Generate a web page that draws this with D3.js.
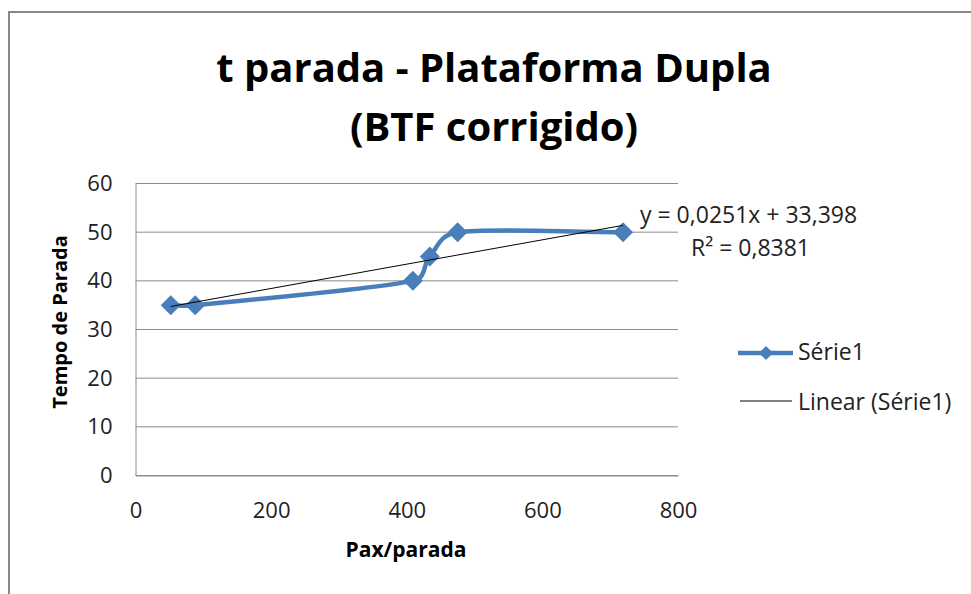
<!DOCTYPE html>
<html>
<head>
<meta charset="utf-8">
<script src="https://cdn.jsdelivr.net/npm/d3@7"></script>
<style>
  body { margin: 0; background: #fff; }
  text { font-family: "Open Sans", sans-serif; }
</style>
</head>
<body>
<div id="chart"></div>
<script>
// data
var paxParada = [52, 88, 409, 434, 475, 719];
var tempoParada = [35, 35, 40, 45, 50, 50];
var xTicks = [0, 200, 400, 600, 800];
var yTicks = [0, 10, 20, 30, 40, 50, 60];
var titleLines = ["t parada - Plataforma Dupla", "(BTF corrigido)"];
var legendLabels = ["Série1", "Linear (Série1)"];

var W = 971, H = 594;
var BLUE = "#4a7ebb";

var svg = d3.select("#chart").append("svg")
  .attr("width", W)
  .attr("height", H);

// outer chart border (runs off the right and bottom edges)
svg.append("rect")
  .attr("x", 9).attr("y", 12)
  .attr("width", W + 10).attr("height", H + 10)
  .style("fill", "#fff")
  .style("stroke", "#878787")
  .style("stroke-width", 2);

var x = d3.scaleLinear().domain([0, 800]).range([135.5, 678]);
var y = d3.scaleLinear().domain([0, 60]).range([475.5, 183.5]);

// gridlines
svg.append("g").selectAll("line")
  .data(yTicks)
  .enter().append("line")
  .attr("x1", x(0)).attr("x2", x(800))
  .attr("y1", function(d) { return y(d); })
  .attr("y2", function(d) { return y(d); })
  .style("stroke", "#8c8c8c")
  .style("stroke-width", 1);

// y axis
var yAxis = svg.append("g")
  .attr("transform", "translate(" + x(0) + ",0)")
  .call(d3.axisLeft(y).tickValues(yTicks).tickSize(0).tickPadding(23));
yAxis.select(".domain").style("stroke", "#8c8c8c");
yAxis.selectAll("text")
  .style("font-size", "22px")
  .style("fill", "#222")
  .style("font-family", "Open Sans, sans-serif");

// x axis
var xAxis = svg.append("g")
  .attr("transform", "translate(0," + y(0) + ")")
  .call(d3.axisBottom(x).tickValues(xTicks).tickSize(0).tickPadding(27));
xAxis.select(".domain").style("stroke", "#8c8c8c");
xAxis.selectAll("text")
  .style("font-size", "22px")
  .style("fill", "#222")
  .style("font-family", "Open Sans, sans-serif");

// data line, smoothed the way Excel does it:
// Catmull-Rom tangents, handles clamped on short segments
var pts = paxParada.map(function(d, i) { return [x(d), y(tempoParada[i])]; });

function tangent(i) {
  var a = pts[Math.max(i - 1, 0)], b = pts[Math.min(i + 1, pts.length - 1)];
  var k = (i == 0 || i == pts.length - 1) ? 1 : 0.5;
  return [(b[0] - a[0]) * k / 3, (b[1] - a[1]) * k / 3];
}
function clamp(t, len) {
  var l = Math.sqrt(t[0] * t[0] + t[1] * t[1]);
  var m = 0.5 * len;
  if (l > m) return [t[0] * m / l, t[1] * m / l];
  return t;
}

var p = d3.path();
p.moveTo(pts[0][0], pts[0][1]);
for (var i = 0; i < pts.length - 1; i++) {
  var a = pts[i], b = pts[i + 1];
  var len = Math.hypot(b[0] - a[0], b[1] - a[1]);
  var ta = clamp(tangent(i), len), tb = clamp(tangent(i + 1), len);
  p.bezierCurveTo(a[0] + ta[0], a[1] + ta[1], b[0] - tb[0], b[1] - tb[1], b[0], b[1]);
}

svg.append("path")
  .attr("d", p.toString())
  .style("fill", "none")
  .style("stroke", BLUE)
  .style("stroke-width", 4.5)
  .style("stroke-linejoin", "round");

var diamond = d3.symbol().type(d3.symbolSquare).size(200);
svg.append("g").selectAll("path")
  .data(pts)
  .enter().append("path")
  .attr("d", diamond)
  .attr("transform", function(d) {
    return "translate(" + d[0] + "," + d[1] + ") rotate(45)";
  })
  .style("fill", BLUE);

// linear trend
var mx = d3.mean(paxParada), my = d3.mean(tempoParada);
var sxy = d3.sum(paxParada, function(d, i) { return (d - mx) * (tempoParada[i] - my); });
var sxx = d3.sum(paxParada, function(d) { return (d - mx) * (d - mx); });
var slope = sxy / sxx;
var intercept = my - slope * mx;
var xr = d3.extent(paxParada);

svg.append("line")
  .attr("x1", x(xr[0])).attr("y1", y(slope * xr[0] + intercept))
  .attr("x2", x(xr[1])).attr("y2", y(slope * xr[1] + intercept))
  .style("stroke", "#000")
  .style("stroke-width", 1);

// equation label (Excel values)
svg.append("text")
  .attr("x", 640).attr("y", 223)
  .style("font-size", "23px")
  .style("fill", "#222")
  .text("y = 0,0251x + 33,398");
svg.append("text")
  .attr("x", 691).attr("y", 256)
  .style("font-size", "23px")
  .style("fill", "#222")
  .text("R² = 0,8381");

// title
svg.append("g").selectAll("text")
  .data(titleLines)
  .enter().append("text")
  .attr("x", 494)
  .attr("y", function(d, i) { return 82 + i * 59; })
  .attr("text-anchor", "middle")
  .style("font-size", "40px")
  .style("font-weight", "bold")
  .style("fill", "#000")
  .text(function(d) { return d; });

// axis titles
svg.append("text")
  .attr("transform", "translate(67,322) rotate(-90)")
  .attr("text-anchor", "middle")
  .style("font-size", "20px")
  .style("font-weight", "bold")
  .text("Tempo de Parada");

svg.append("text")
  .attr("x", 406).attr("y", 557)
  .attr("text-anchor", "middle")
  .style("font-size", "21px")
  .style("font-weight", "bold")
  .text("Pax/parada");

// legend
var legend = svg.append("g");
legend.append("line")
  .attr("x1", 738).attr("x2", 793)
  .attr("y1", 353).attr("y2", 353)
  .style("stroke", BLUE).style("stroke-width", 4.5);
legend.append("path")
  .attr("d", d3.symbol().type(d3.symbolSquare).size(100))
  .attr("transform", "translate(766,353) rotate(45)")
  .style("fill", BLUE);
legend.append("line")
  .attr("x1", 740).attr("x2", 792)
  .attr("y1", 401).attr("y2", 401)
  .style("stroke", "#000").style("stroke-width", 1);
legend.selectAll("text")
  .data(legendLabels)
  .enter().append("text")
  .attr("x", 798)
  .attr("y", function(d, i) { return 360 + i * 50; })
  .style("font-size", "23px")
  .style("fill", "#222")
  .text(function(d) { return d; });
</script>
</body>
</html>
